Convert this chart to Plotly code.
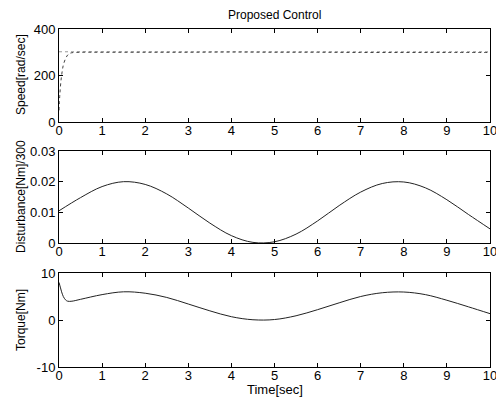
import plotly.graph_objects as go
from plotly.subplots import make_subplots

# Speed response [rad/sec]
speed_t = [0, 0.02, 0.05, 0.08, 0.1, 0.15, 0.2, 0.25, 0.3, 0.5, 1, 2, 3, 4, 5, 6, 7, 8, 9, 10]
speed_v = [50, 120, 185, 225, 245, 272, 288, 295, 298, 300, 300, 300, 300, 301, 300, 300, 299, 299, 299, 299]
ref_t = [0, 10]
ref_v = [302, 302]

# Disturbance [Nm]/300
dist_t = [0, 0.5, 1, 1.5, 2, 2.5, 3, 3.5, 4, 4.5, 5, 5.5, 6, 6.5, 7, 7.5, 8, 8.5, 9, 9.5, 10]
dist_v = [0.0105, 0.0148, 0.0184, 0.0200, 0.0191, 0.0160, 0.0114, 0.0065, 0.0024, 0.0002,
          0.0004, 0.0029, 0.0072, 0.0122, 0.0166, 0.0194, 0.0199, 0.0180, 0.0141, 0.0093, 0.0046]

# Torque [Nm]
torq_t = [0, 0.03, 0.06, 0.1, 0.15, 0.2, 0.3, 0.5, 1, 1.5, 2, 2.5, 3, 3.5, 4, 4.5, 5,
          5.5, 6, 6.5, 7, 7.5, 8, 8.5, 9, 9.5, 10]
torq_v = [8.0, 7.0, 6.0, 5.0, 4.3, 4.0, 4.0, 4.4, 5.4, 6.0, 5.7, 4.8, 3.4, 1.95, 0.7, 0.05, 0.1,
          0.9, 2.2, 3.65, 5.0, 5.8, 5.95, 5.4, 4.2, 2.8, 1.35]

# page body has an 8px margin, so the figure is drawn 8px smaller and shifted
OFF = 8
W, H = 504 - OFF, 403 - OFF
FONT = "Liberation Sans, Arial, sans-serif"

def px_x(p):
    return (p - OFF) / W

def px_y(p):
    return 1 - (p - OFF) / H

fig = make_subplots(rows=3, cols=1)

fig.add_trace(go.Scatter(x=ref_t, y=ref_v, mode="lines",
                         line=dict(color="#999", width=1, dash="dot")), row=1, col=1)
fig.add_trace(go.Scatter(x=speed_t, y=speed_v, mode="lines", line_shape="spline",
                         line=dict(color="#444", width=1, dash="dot")), row=1, col=1)
fig.add_trace(go.Scatter(x=dist_t, y=dist_v, mode="lines", line_shape="spline",
                         line=dict(color="#222", width=1)), row=2, col=1)
fig.add_trace(go.Scatter(x=torq_t, y=torq_v, mode="lines", line_shape="spline",
                         line=dict(color="#222", width=1)), row=3, col=1)

xd = [px_x(59), px_x(490)]
domains = [(122, 29), (243, 151), (367, 273)]
yranges = [[0, 400], [0, 0.03], [-10, 10]]
yticks = [[0, 200, 400], [0, 0.01, 0.02, 0.03], [-10, 0, 10]]
ytext = [["0", "200", "400"], ["0", "0.01", "0.02", "0.03"], ["-10", "0", "10"]]

axis_style = dict(showline=True, linecolor="black", linewidth=1, mirror="allticks",
                  ticks="inside", ticklen=4, tickcolor="black", showgrid=False,
                  zeroline=False, automargin=False,
                  tickfont=dict(family=FONT, size=13, color="black"))

for i in range(3):
    fig.update_xaxes(domain=xd, range=[0, 10], tickvals=list(range(11)), row=i + 1, col=1,
                     ticklabelstandoff=-4, **axis_style)
    fig.update_yaxes(domain=[px_y(domains[i][0]), px_y(domains[i][1])], range=yranges[i],
                     tickvals=yticks[i], ticktext=ytext[i], row=i + 1, col=1, **axis_style)

labels = [("Speed[rad/sec]", 75), ("Disturbance[Nm]/300", 197), ("Torque[Nm]", 320)]
for txt, ypix in labels:
    fig.add_annotation(text=txt, x=px_x(21), y=px_y(ypix), xref="paper", yref="paper",
                       xanchor="center", yanchor="middle", textangle=-90, showarrow=False,
                       font=dict(family=FONT, size=12, color="black"))

fig.add_annotation(text="Proposed Control", x=px_x((59 + 490) / 2), y=px_y(15), xref="paper",
                   yref="paper", xanchor="center", yanchor="middle", showarrow=False,
                   font=dict(family=FONT, size=12, color="black"))
fig.add_annotation(text="Time[sec]", x=px_x((59 + 490) / 2), y=px_y(389), xref="paper",
                   yref="paper", xanchor="center", yanchor="middle", showarrow=False,
                   font=dict(family=FONT, size=13, color="black"))

fig.update_layout(
    template="none",
    width=W, height=H,
    margin=dict(l=0, r=0, t=0, b=0),
    showlegend=False,
    paper_bgcolor="white",
    plot_bgcolor="white",
)

fig.write_html("out.html")
